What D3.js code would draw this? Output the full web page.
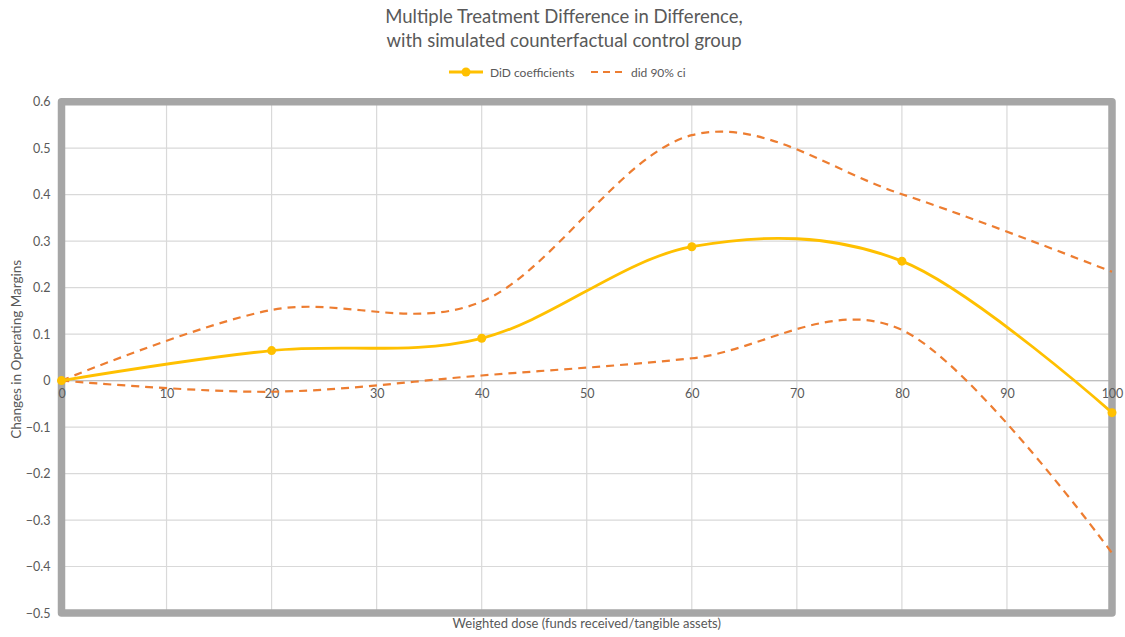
<!DOCTYPE html>
<html>
<head>
<meta charset="utf-8">
<script src="https://cdn.jsdelivr.net/npm/d3@7"></script>
<style>
  html, body { margin: 0; padding: 0; background: #fff; }
  svg { display: block; font-family: Lato, "Open Sans", sans-serif; }
</style>
</head>
<body>
<svg id="chart" width="1125" height="637"></svg>
<script>
// Treatment dose levels and estimates
const doses = [0, 20, 40, 60, 80, 100];
const didCoefficients = [0, 0.0645, 0.091, 0.288, 0.257, -0.069];
const ciUpper = [0, 0.152, 0.170, 0.528, 0.401, 0.234];
const ciLower = [0, -0.024, 0.011, 0.048, 0.109, -0.371];
const xTicks = [0, 10, 20, 30, 40, 50, 60, 70, 80, 90, 100];
const yTicks = [-0.5, -0.4, -0.3, -0.2, -0.1, 0, 0.1, 0.2, 0.3, 0.4, 0.5, 0.6];
const titleLines = ["Multiple Treatment Difference in Difference,", "with simulated counterfactual control group"];

const svg = d3.select("#chart");
const plotLeft = 61.5, plotRight = 1112, plotTop = 101.7, plotBottom = 613;

const x = d3.scaleLinear().domain([0, 100]).range([plotLeft, plotRight]);
const y = d3.scaleLinear().domain([-0.5, 0.6]).range([plotBottom, plotTop]);

const textColor = "#595959";

// Title
svg.append("g").selectAll("text").data(titleLines).join("text")
  .attr("x", 564).attr("y", (d, i) => 23 + i * 24)
  .attr("text-anchor", "middle")
  .attr("font-size", 18.5).attr("fill", textColor)
  .text(d => d);

// Gridlines
svg.append("g").selectAll("line").data(yTicks).join("line")
  .attr("x1", plotLeft).attr("x2", plotRight)
  .attr("y1", d => y(d)).attr("y2", d => y(d))
  .attr("stroke", "#d9d9d9").attr("stroke-width", 1.2);
svg.append("g").selectAll("line").data(xTicks).join("line")
  .attr("y1", plotTop).attr("y2", plotBottom)
  .attr("x1", d => x(d)).attr("x2", d => x(d))
  .attr("stroke", "#d9d9d9").attr("stroke-width", 1.2);

// Horizontal axis line at zero
svg.append("line")
  .attr("x1", plotLeft).attr("x2", plotRight)
  .attr("y1", y(0)).attr("y2", y(0))
  .attr("stroke", "#bfbfbf").attr("stroke-width", 1.2);

// Plot frame
svg.append("rect")
  .attr("x", plotLeft).attr("y", plotTop)
  .attr("width", plotRight - plotLeft).attr("height", plotBottom - plotTop)
  .attr("fill", "none").attr("stroke", "#a6a6a6")
  .attr("stroke-width", 7.5).attr("stroke-linejoin", "round");

// Y axis tick labels
const yAxis = d3.axisLeft(y).tickValues(yTicks).tickSize(0).tickPadding(0)
  .tickFormat(d => d === 0 ? "0" : d3.format(".1f")(d));
svg.append("g").attr("transform", `translate(${plotLeft - 11},0)`).call(yAxis)
  .call(g => g.select(".domain").remove())
  .call(g => g.selectAll("text").attr("fill", textColor).attr("font-size", 12.5)
    .attr("font-family", "Lato, 'Open Sans', sans-serif"));

// X axis tick labels, placed along the zero line
const xAxis = d3.axisBottom(x).tickValues(xTicks).tickSize(0).tickPadding(0);
svg.append("g").attr("transform", `translate(0,${y(0) + 9})`).call(xAxis)
  .call(g => g.select(".domain").remove())
  .call(g => g.selectAll("text").attr("fill", textColor).attr("font-size", 12.5)
    .attr("font-family", "Lato, 'Open Sans', sans-serif"));

// Axis titles
svg.append("text")
  .attr("transform", `translate(21,${(plotTop + plotBottom) / 2 - 8}) rotate(-90)`)
  .attr("text-anchor", "middle").attr("font-size", 13.5).attr("fill", textColor)
  .text("Changes in Operating Margins");
svg.append("text")
  .attr("x", (plotLeft + plotRight) / 2).attr("y", 628)
  .attr("text-anchor", "middle").attr("font-size", 13).attr("fill", textColor)
  .text("Weighted dose (funds received/tangible assets)");

// Smoothed series lines
const lineGen = vals => d3.line()
  .x((d, i) => x(doses[i])).y(d => y(d))
  .curve(d3.curveCardinal.tension(0))(vals);

const ciColor = "#ED7D31", didColor = "#FFC000";

[ciUpper, ciLower].forEach(vals => {
  svg.append("path").attr("d", lineGen(vals))
    .attr("fill", "none").attr("stroke", ciColor)
    .attr("stroke-width", 2.2).attr("stroke-dasharray", "8,6");
});

svg.append("path").attr("d", lineGen(didCoefficients))
  .attr("fill", "none").attr("stroke", didColor).attr("stroke-width", 2.8);

svg.append("g").selectAll("circle").data(didCoefficients).join("circle")
  .attr("cx", (d, i) => x(doses[i])).attr("cy", d => y(d))
  .attr("r", 4.5).attr("fill", didColor);

// Legend
const lg = svg.append("g").attr("transform", "translate(0,72)");
lg.append("line").attr("x1", 449).attr("x2", 483).attr("y1", 0).attr("y2", 0)
  .attr("stroke", didColor).attr("stroke-width", 2.8);
lg.append("circle").attr("cx", 466).attr("cy", 0).attr("r", 4.5).attr("fill", didColor);
lg.append("text").attr("x", 490).attr("y", 4.5).attr("font-size", 12)
  .attr("fill", textColor).text("DiD coefficients");
lg.append("line").attr("x1", 591).attr("x2", 625).attr("y1", 0).attr("y2", 0)
  .attr("stroke", ciColor).attr("stroke-width", 2.2).attr("stroke-dasharray", "7,5");
lg.append("text").attr("x", 631).attr("y", 4.5).attr("font-size", 12)
  .attr("fill", textColor).text("did 90% ci");
</script>
</body>
</html>
